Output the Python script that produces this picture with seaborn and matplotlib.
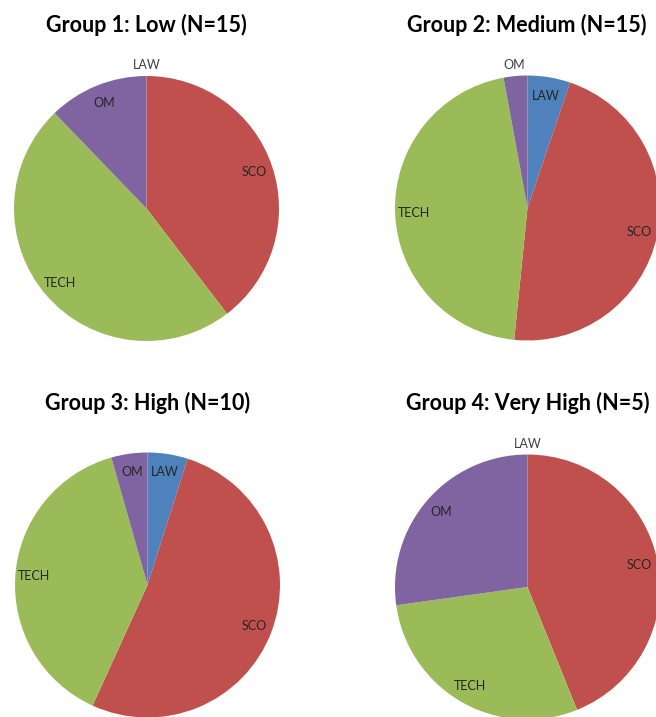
import numpy as np
import matplotlib
matplotlib.use("Agg")
import matplotlib.pyplot as plt
import seaborn as sns

# slice order follows the chart: clockwise from 12 o'clock
categories = ["LAW", "SCO", "TECH", "OM"]
titles = ["Group 1: Low (N=15)", "Group 2: Medium (N=15)",
          "Group 3: High (N=10)", "Group 4: Very High (N=5)"]

# shares in percent
group1 = [0.0, 39.6, 48.2, 12.2]
group2 = [5.2, 46.4, 45.5, 2.9]
group3 = [4.9, 51.9, 38.8, 4.4]
group4 = [0.0, 43.9, 28.9, 27.2]
groups = [group1, group2, group3, group4]

colors = sns.color_palette(["#4F81BD", "#C0504D", "#9BBB59", "#8064A2"])

sns.set_theme(style="white")
plt.rcParams["font.family"] = ["Lato", "DejaVu Sans"]

W, H = 656, 717
R = 132.5  # pie radius in px
fig = plt.figure(figsize=(W / 100, H / 100), dpi=100)

centers = [(146.5, 208.5), (527.5, 208), (147.5, 585), (527.5, 587)]
title_pos = [(146, 32), (527, 32), (147.5, 409.5), (527.5, 410.5)]

for vals, title, (cx, cy), (tx, ty) in zip(groups, titles, centers, title_pos):
    ax = fig.add_axes([(cx - R) / W, (H - cy - R) / H, 2 * R / W, 2 * R / H])
    wedges, texts = ax.pie(vals, labels=categories, colors=colors,
                           startangle=90, counterclock=False,
                           labeldistance=0.86,
                           wedgeprops=dict(linewidth=0, edgecolor="none"),
                           textprops=dict(fontsize=9, color="#262626"))
    total = sum(vals)
    for w, t, v in zip(wedges, texts, vals):
        t.set_ha("center")
        t.set_va("center")
        # tiny / empty slices get their label just outside the rim
        if v / total < 0.04:
            ang = np.deg2rad((w.theta1 + w.theta2) / 2)
            t.set_position((1.08 * np.cos(ang), 1.08 * np.sin(ang)))
            t.set_color("#404040")
    ax.set_xlim(-1, 1)
    ax.set_ylim(-1, 1)
    ax.set_aspect("equal")
    ax.axis("off")
    fig.text(tx / W, 1 - ty / H, title, ha="center", va="baseline",
             fontsize=15.5, fontweight="bold", color="black")

fig.savefig("out.png", dpi=100)
